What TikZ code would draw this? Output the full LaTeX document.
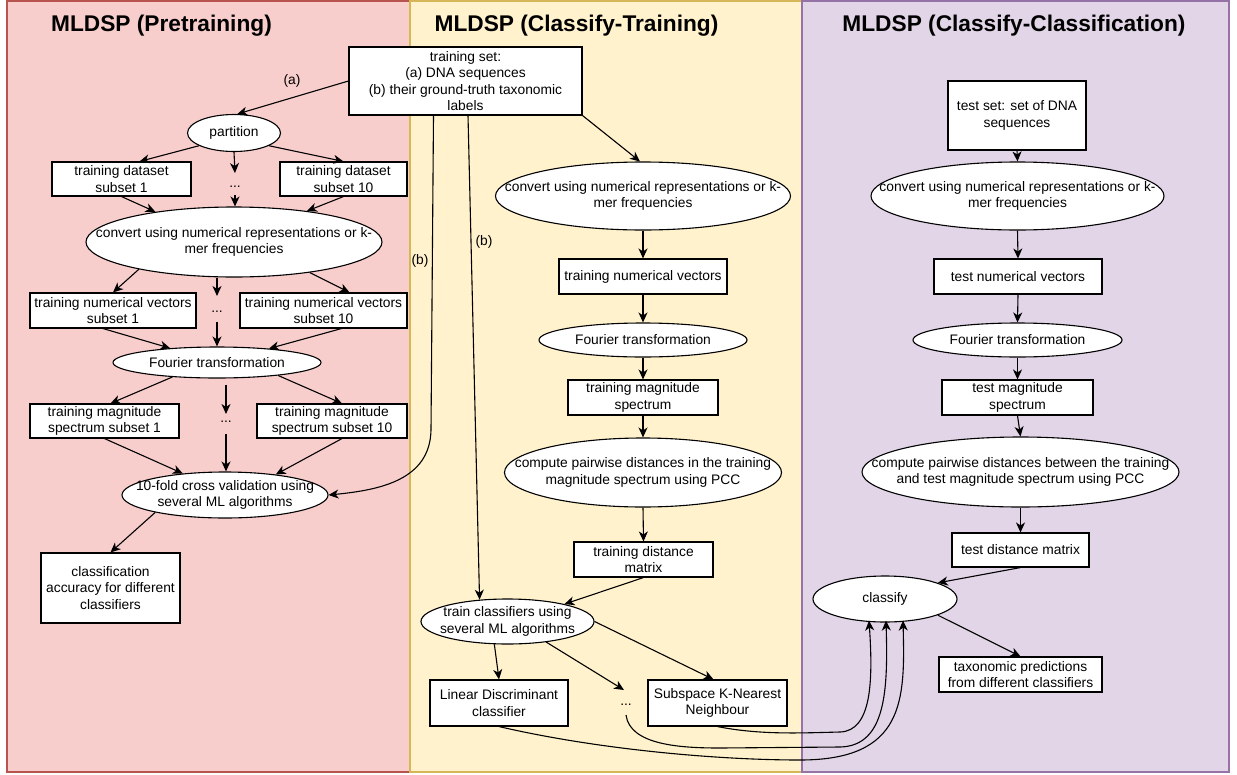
\documentclass[tikz,border=0pt]{standalone}
\usepackage{fontspec}
\setmainfont{Liberation Sans}
\usetikzlibrary{arrows.meta,calc,shapes.geometric}
\definecolor{pinkF}{HTML}{F8CECC}
\definecolor{pinkD}{HTML}{B85450}
\definecolor{yelF}{HTML}{FFF2CC}
\definecolor{yelD}{HTML}{D6B656}
\definecolor{purF}{HTML}{E1D5E7}
\definecolor{purD}{HTML}{9673A6}
\begin{document}
\begin{tikzpicture}[x=1pt,y=-1pt,
  every node/.style={font=\fontsize{13.8pt}{16.6pt}\selectfont},
  box/.style={draw, fill=white, line width=1.1pt, inner sep=0pt, align=center},
  ell/.style={draw, ellipse, fill=white, line width=1.1pt, inner sep=0pt},
  etxt/.style={align=center, inner sep=0pt},
  arr/.style={line width=1.1pt, -{Stealth[length=10pt,width=9pt,inset=3pt]}},
  ttl/.style={font=\fontsize{22.7pt}{27pt}\selectfont\bfseries, inner sep=0pt},
  dotsn/.style={inner sep=0pt},
  lab/.style={inner sep=0pt}]
\useasboundingbox (0,0) rectangle (1237,774);
% panels
\draw[fill=pinkF, draw=pinkD, line width=1.1pt] (7,1) rectangle (410,772);
\draw[fill=yelF, draw=yelD, line width=1.1pt] (410,1) rectangle (802,772);
\draw[fill=purF, draw=purD, line width=1.1pt] (802,1) rectangle (1229,772);
\node[ttl] (t1) at (161.5,26) {MLDSP (Pretraining)};
\node[ttl] (t2) at (576.5,26) {MLDSP (Classify-Training)};
\node[ttl] (t3) at (1014,26) {MLDSP (Classify-Classification)};

% ---------- left panel ----------
\node[box, minimum width=233pt, minimum height=68pt] (ts) at (465.5,81)
  {training set:\\(a) DNA sequences\\(b) their ground-truth taxonomic\\labels};
\node[ell, minimum width=93pt, minimum height=37pt, label={[etxt]center:partition}] (pt) at (234,133) {};
\node[box, minimum width=139pt, minimum height=34pt] (s1) at (121.5,179) {training dataset\\subset 1};
\node[box, minimum width=127pt, minimum height=34pt] (s10) at (343.5,179) {training dataset\\subset 10};
\node[dotsn] (d1) at (235,187) {...};
\node[ell, minimum width=296pt, minimum height=70pt,
  label={[etxt]center:{convert using numerical representations or k-\\mer frequencies}}] (cv1) at (234,242) {};
\node[box, minimum width=166pt, minimum height=35pt] (nv1) at (113,310.5) {training numerical vectors\\subset 1};
\node[box, minimum width=167pt, minimum height=35pt] (nv10) at (323.5,310.5) {training numerical vectors\\subset 10};
\node[dotsn] (d2) at (217,312) {...};
\node[ell, minimum width=208pt, minimum height=31pt, label={[etxt]center:Fourier transformation}] (ft1) at (217,362.5) {};
\node[box, minimum width=149pt, minimum height=34pt] (ms1) at (104.5,421) {training magnitude\\spectrum subset 1};
\node[box, minimum width=150pt, minimum height=34pt] (ms10) at (332,421) {training magnitude\\spectrum subset 10};
\node[dotsn] (d3) at (226,422) {...};
\node[ell, minimum width=206pt, minimum height=46pt,
  label={[etxt]center:{10-fold cross validation using\\several ML algorithms}}] (tf) at (225,495) {};
\node[box, minimum width=139pt, minimum height=70pt] (ca) at (110.5,588) {classification\\accuracy for different\\classifiers};

\node[lab] (la) at (292,81) {(a)};
\node[lab] (lb1) at (420,261) {(b)};
\node[lab] (lb2) at (484,242) {(b)};

\draw[arr] (ts.west) -- (pt.80);
\draw[arr] (pt.200) -- ($(s1.north)+(18,0)$);
\draw[arr] (pt.-20) -- (s10.north);
\draw[arr] (pt.south) -- ($(d1)+(0,-14)$);
\draw[arr] ($(d1)+(0,8)$) -- (d1 |- cv1.north);
\draw[arr] (s1.south) -- (cv1.159);
\draw[arr] (s10.south) -- (cv1.23);
\draw[arr] (cv1.196) -- (nv1.north);
\draw[arr] (cv1.-22) -- ($(nv10.north)+(26,0)$);
\draw[arr] (d2 |- cv1.south) -- ($(d2)+(0,-16)$);
\draw[arr] ($(d2)+(0,10)$) -- (ft1.north);
\draw[arr] ($(nv1.south)+(-10,0)$) -- (ft1.163);
\draw[arr] ($(nv10.south)+(18,0)$) -- (ft1.15);
\draw[arr] (ft1.198) -- ($(ms1.north)+(6,0)$);
\draw[arr] (ft1.-12) -- ($(ms10.north)+(10,0)$);
\draw[arr] ($(d3 |- ft1.south)+(0,6)$) -- ($(d3)+(0,-8)$);
\draw[arr] ($(d3)+(0,12)$) -- (d3 |- tf.north);
\draw[arr] (ms1.south) -- (tf.153);
\draw[arr] ($(ms10.south)+(10,0)$) -- (tf.22);
\draw[arr] (tf.194) -- (ca.north);
\draw[arr] ($(ts.south)+(-32,0)$) -- (431,430) .. controls (430,480) and (380,490) .. (tf.east);

% ---------- middle panel ----------
\node[ell, minimum width=295pt, minimum height=68pt,
  label={[etxt]center:{convert using numerical representations or k-\\mer frequencies}}] (cv2) at (643,196) {};
\node[box, minimum width=168pt, minimum height=35pt] (nv) at (643,276.5) {training numerical vectors};
\node[ell, minimum width=208pt, minimum height=34pt, label={[etxt]center:Fourier transformation}] (ft2) at (643,340) {};
\node[box, minimum width=150pt, minimum height=35pt] (ms) at (643,397.5) {training magnitude\\spectrum};
\node[ell, minimum width=277pt, minimum height=69pt,
  label={[etxt]center:{compute pairwise distances in the training\\magnitude spectrum using PCC}}] (cp2) at (643,472.5) {};
\node[box, minimum width=139pt, minimum height=35pt] (dm) at (643.5,559.5) {training distance\\matrix};
\node[ell, minimum width=173pt, minimum height=45pt,
  label={[etxt]center:{train classifiers using\\several ML algorithms}}] (tc) at (507.5,621.5) {};
\node[box, minimum width=138pt, minimum height=46pt] (ld) at (499,703) {Linear Discriminant\\classifier};
\node[dotsn] (d4) at (626,705) {...};
\node[box, minimum width=139pt, minimum height=46pt] (sk) at (717.5,703) {Subspace K-Nearest\\Neighbour};

\draw[arr] (ts.south east) -- (cv2.95);
\draw[arr] (cv2.south) -- (nv.north);
\draw[arr] (nv.south) -- (ft2.north);
\draw[arr] (ft2.south) -- (ms.north);
\draw[arr] (ms.south) -- (cp2.north);
\draw[arr] (cp2.south) -- (dm.north);
\draw[arr] (dm.south) -- (tc.17);
\draw[arr] ($(ts.south)+(2.5,0)$) -- (tc.142);
\draw[arr] (tc.-120) -- (ld.north);
\draw[arr] (tc.-28) -- ($(d4)+(-2,-15)$);
\draw[arr] (tc.east) -- ($(sk.north)+(-4,0)$);

% ---------- right panel ----------
\node[box, minimum width=138pt, minimum height=69pt] (tst) at (1017,115.5) {test set: set of DNA\\sequences};
\node[ell, minimum width=293pt, minimum height=68pt,
  label={[etxt]center:{convert using numerical representations or k-\\mer frequencies}}] (cv3) at (1017.5,196) {};
\node[box, minimum width=168pt, minimum height=35pt] (tnv) at (1018,276.5) {test numerical vectors};
\node[ell, minimum width=209pt, minimum height=34pt, label={[etxt]center:Fourier transformation}] (ft3) at (1017.5,340) {};
\node[box, minimum width=151pt, minimum height=35pt] (tms) at (1017.5,397.5) {test magnitude\\spectrum};
\node[ell, minimum width=317pt, minimum height=70pt,
  label={[etxt]center:{compute pairwise distances between the training\\and test magnitude spectrum using PCC}}] (cp3) at (1020.5,472) {};
\node[box, minimum width=137pt, minimum height=34pt] (tdm) at (1020.5,550) {test distance matrix};
\node[ell, minimum width=144pt, minimum height=46pt, label={[etxt]center:classify}] (cl) at (885,599) {};
\node[box, minimum width=163pt, minimum height=35pt] (tax) at (1020.5,674.5) {taxonomic predictions\\from different classifiers};

\draw[arr] (tst.south) -- (cv3.north);
\draw[arr] (cv3.south) -- (tnv.north);
\draw[arr] (tnv.south) -- (ft3.north);
\draw[arr] (ft3.south) -- (tms.north);
\draw[arr] (tms.south) -- (cp3.north);
\draw[arr] (cp3.south) -- (tdm.north);
\draw[arr] (tdm.south) -- (cl.17);
\draw[arr] (cl.-17) -- (tax.north);

% curves to classify
\draw[arr] (sk.south) .. controls (760,735) and (800,733) .. (840,732)
  .. controls (872,731) and (873,680) .. ($(cl.south)+(-16,-2)$);
\draw[arr] ($(d4)+(0,10)$) .. controls (630,745) and (680,748) .. (720,748) -- (840,747)
  .. controls (886,746) and (888,690) .. ($(cl.south)+(1,-2)$);
\draw[arr] (ld.south) .. controls (600,750) and (720,760) .. (800,760)
  .. controls (905,760) and (905,700) .. ($(cl.south)+(18,-2)$);
\end{tikzpicture}
\end{document}
